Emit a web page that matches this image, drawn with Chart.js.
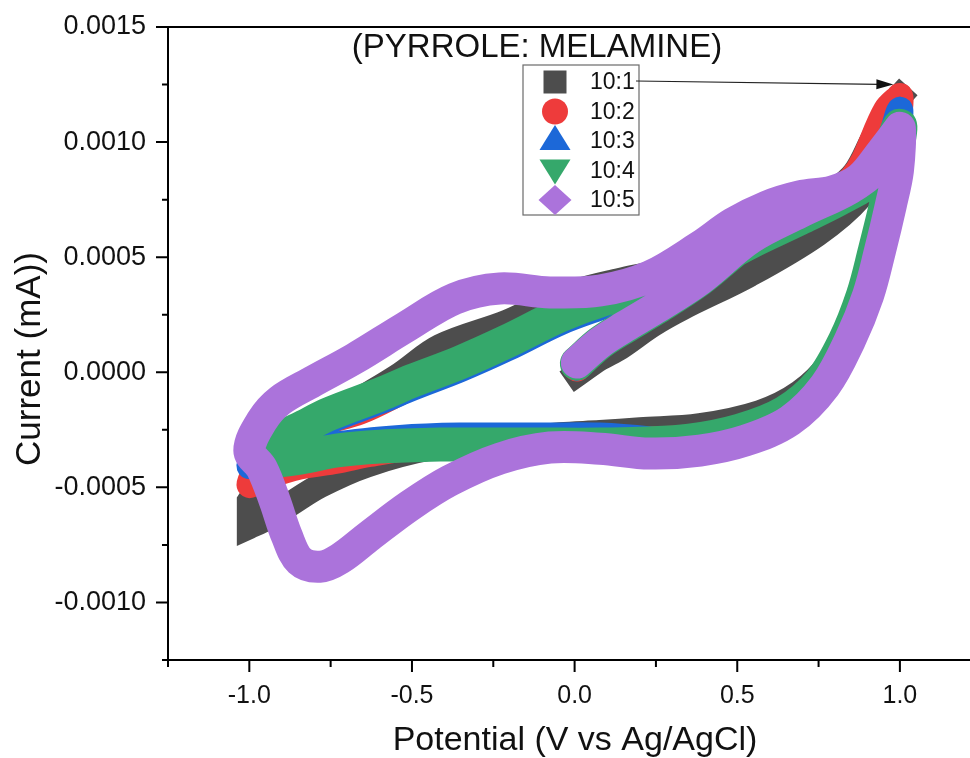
<!DOCTYPE html>
<html>
<head>
<meta charset="utf-8">
<script src="https://cdn.jsdelivr.net/npm/chart.js@4.4.1/dist/chart.umd.min.js"></script>
<style>
  html, body { margin: 0; padding: 0; background: #fff; }
  #cv { display: block; }
</style>
</head>
<body>
<canvas id="cv" width="970" height="758"></canvas>
<script>
// Cyclic voltammograms, potential (V) vs current, pyrrole:melamine ratios

const ratios = ["10:1", "10:2", "10:3", "10:4", "10:5"];
const colors = ["#4d4d4d", "#ee3b3b", "#1c68d8", "#35a86b", "#ab73db"];
const markers = ["square", "circle", "triangle", "triangleDown", "diamond"];
const bandWidths = [25, 26, 26, 34, 32];

const xTicks = [-1.0, -0.5, 0.0, 0.5, 1.0];
const xMinorTicks = [-1.25, -0.75, -0.25, 0.25, 0.75];
const yTicks = [0.0015, 0.0010, 0.0005, 0.0, -0.0005, -0.0010];
const yMinorTicks = [0.00125, 0.00075, 0.00025, -0.00025, -0.00075, -0.00125];

// [potential, current]; a repeated point marks a sharp switching corner
const cv_10_1 = [
  [0.007, -0.00001], [0.078, 0.00006], [0.139, 0.000107], [0.240, 0.000207], [0.333, 0.000281],
  [0.539, 0.000425], [0.745, 0.000599], [0.877, 0.00076], [0.954, 0.000942], [1.0, 0.0012],
  [0.988, 0.001007], [0.954, 0.000747], [0.908, 0.000464], [0.852, 0.000225], [0.785, 0.000042],
  [0.692, -0.000088], [0.569, -0.000175], [0.385, -0.000232], [0.201, -0.00025], [0.078, -0.000262],
  [-0.045, -0.000271], [-0.230, -0.000297], [-0.436, -0.000327], [-0.639, -0.000403], [-0.783, -0.000493],
  [-0.891, -0.000588], [-0.961, -0.000645], [-1.0, -0.00067], [-1.0, -0.00067],
  [-1.0, -0.00056], [-1.0, -0.00056], [-0.937, -0.000427], [-0.845, -0.000297], [-0.691, -0.000145],
  [-0.537, -0.00001], [-0.414, 0.000112], [-0.208, 0.000218], [-0.092, 0.000295], [0.007, 0.000352],
  [0.139, 0.000399], [0.262, 0.000438], [0.385, 0.000494], [0.539, 0.000607], [0.692, 0.000703],
  [0.800, 0.00079], [0.862, 0.000868], [0.914, 0.001007], [0.960, 0.001138], [1.0, 0.0012]
];

const cv_10_2 = [
  [0.007, 0.000016], [0.078, 0.000142], [0.155, 0.000212], [0.247, 0.00029], [0.385, 0.000416],
  [0.539, 0.000594], [0.692, 0.000707], [0.846, 0.000812], [0.939, 0.000964], [1.0, 0.0012],
  [0.985, 0.000964], [0.960, 0.000725], [0.926, 0.000529], [0.889, 0.000333], [0.834, 0.000138],
  [0.757, -0.000045], [0.649, -0.000175], [0.508, -0.000253], [0.354, -0.000284], [0.201, -0.000293],
  [0.078, -0.000297], [-0.107, -0.000301], [-0.291, -0.00031], [-0.476, -0.000323], [-0.630, -0.000355],
  [-0.731, -0.000384], [-0.845, -0.00041], [-0.937, -0.000449], [-1.0, -0.000488],
  [-0.961, -0.000393], [-0.891, -0.000297], [-0.783, -0.000223], [-0.660, -0.000171], [-0.537, -0.000088],
  [-0.353, 0.000042], [-0.208, 0.000138], [-0.076, 0.000225], [0.078, 0.00032], [0.231, 0.00042],
  [0.385, 0.000515], [0.539, 0.000615], [0.692, 0.000718], [0.852, 0.000842], [0.957, 0.001138],
  [1.0, 0.0012]
];

const cv_10_3 = [
  [0.007, 0.00002], [0.078, 0.000115], [0.155, 0.000188], [0.247, 0.000266], [0.385, 0.000393],
  [0.539, 0.000565], [0.692, 0.000672], [0.846, 0.000772], [0.939, 0.000899], [1.0, 0.00114],
  [0.982, 0.00092], [0.957, 0.000725], [0.923, 0.000529], [0.886, 0.000333], [0.831, 0.000138],
  [0.754, -0.000045], [0.646, -0.000175], [0.508, -0.000262], [0.385, -0.000323], [0.231, -0.000292],
  [0.078, -0.000275], [-0.107, -0.000275], [-0.353, -0.000275], [-0.537, -0.000285], [-0.731, -0.000314],
  [-0.845, -0.000355], [-0.937, -0.00039], [-1.0, -0.000406],
  [-0.952, -0.000332], [-0.845, -0.000275], [-0.752, -0.00021], [-0.599, -0.000127], [-0.497, -0.000067],
  [-0.353, 0.000012], [-0.208, 0.000103], [-0.045, 0.000216], [0.078, 0.000281], [0.231, 0.000355],
  [0.385, 0.000442], [0.539, 0.000555], [0.692, 0.000655], [0.816, 0.000745], [0.923, 0.000868],
  [0.979, 0.001007], [1.0, 0.00114]
];

const cv_10_4 = [
  [0.007, 0.000038], [0.078, 0.000128], [0.155, 0.000198], [0.247, 0.000276], [0.385, 0.000404],
  [0.539, 0.000579], [0.692, 0.000689], [0.846, 0.00079], [0.939, 0.000893], [1.0, 0.00107],
  [0.979, 0.000877], [0.957, 0.000725], [0.923, 0.000529], [0.886, 0.000333], [0.831, 0.000138],
  [0.754, -0.000045], [0.646, -0.000175], [0.508, -0.000253], [0.354, -0.000297], [0.201, -0.00031],
  [0.078, -0.000314], [-0.107, -0.000314], [-0.291, -0.000314], [-0.414, -0.000314], [-0.599, -0.000323],
  [-0.731, -0.00034], [-0.845, -0.000371], [-0.937, -0.000384], [-0.983, -0.000362],
  [-0.952, -0.000319], [-0.845, -0.000245], [-0.752, -0.00018], [-0.599, -0.000097], [-0.497, -0.000036],
  [-0.353, 0.000042], [-0.208, 0.000134], [-0.045, 0.000247], [0.078, 0.000312], [0.231, 0.000369],
  [0.385, 0.000451], [0.539, 0.000565], [0.692, 0.000668], [0.816, 0.000755], [0.923, 0.000848],
  [0.979, 0.000964], [1.0, 0.00107]
];

const cv_10_5 = [
  [0.007, 0.000042], [0.078, 0.000129], [0.155, 0.000199], [0.247, 0.000277], [0.385, 0.000403],
  [0.539, 0.000581], [0.692, 0.000694], [0.846, 0.000799], [0.939, 0.000899], [0.985, 0.000986],
  [1.0, 0.00106],
  [0.994, 0.000877], [0.972, 0.000725], [0.939, 0.000529], [0.902, 0.000333], [0.846, 0.000138],
  [0.770, -0.000058], [0.662, -0.00021], [0.524, -0.000297], [0.385, -0.00034], [0.231, -0.000353],
  [0.078, -0.000332], [-0.076, -0.000327], [-0.230, -0.000375], [-0.384, -0.000471], [-0.507, -0.00058],
  [-0.630, -0.00071], [-0.722, -0.00081], [-0.783, -0.000845], [-0.845, -0.000819], [-0.885, -0.00071],
  [-0.922, -0.000558], [-0.961, -0.000419], [-1.0, -0.00034],
  [-0.961, -0.00021], [-0.906, -0.000123], [-0.805, -0.00004], [-0.676, 0.00006], [-0.522, 0.000194],
  [-0.368, 0.00032], [-0.230, 0.000364], [-0.076, 0.000347], [0.078, 0.000355], [0.231, 0.000416],
  [0.385, 0.000546], [0.487, 0.000647], [0.591, 0.00072], [0.692, 0.000764], [0.794, 0.000786],
  [0.877, 0.000842], [0.948, 0.000964], [1.0, 0.00106]
];

const series = [cv_10_1, cv_10_2, cv_10_3, cv_10_4, cv_10_5];

// arrow from the 10:1 legend entry to its anodic peak
const arrowTarget = [0.98, 0.00125];

const FONT = '"Liberation Sans", Arial, sans-serif';

function drawMarker(ctx, style, cx, cy) {
    ctx.beginPath();
    if (style === "square") {
        ctx.rect(cx - 11.5, cy - 11.5, 23, 23);
    } else if (style === "circle") {
        ctx.arc(cx, cy, 13, 0, Math.PI * 2);
    } else if (style === "triangle") {
        ctx.moveTo(cx, cy - 16);
        ctx.lineTo(cx + 15.5, cy + 9);
        ctx.lineTo(cx - 15.5, cy + 9);
    } else if (style === "triangleDown") {
        ctx.moveTo(cx - 15.5, cy - 11);
        ctx.lineTo(cx + 15.5, cy - 11);
        ctx.lineTo(cx, cy + 14);
    } else {
        ctx.moveTo(cx, cy - 15);
        ctx.lineTo(cx + 16.5, cy);
        ctx.lineTo(cx, cy + 15);
        ctx.lineTo(cx - 16.5, cy);
    }
    ctx.closePath();
    ctx.fill();
}

// frame, tick marks, titles, legend and arrow
const decor = {
    id: "decor",
    afterDraw(chart) {
        const { ctx, chartArea: a } = chart;
        const x = chart.scales.x, y = chart.scales.y;
        ctx.save();

        ctx.strokeStyle = "#000";
        ctx.lineWidth = 2;
        ctx.beginPath();
        ctx.moveTo(a.left, a.top);
        ctx.lineTo(a.right, a.top);
        ctx.moveTo(a.left, a.top - 1);
        ctx.lineTo(a.left, a.bottom + 1);
        ctx.moveTo(a.left, a.bottom);
        ctx.lineTo(a.right, a.bottom);

        yTicks.forEach(v => {
            const py = y.getPixelForValue(v);
            ctx.moveTo(a.left - 12, py);
            ctx.lineTo(a.left, py);
        });
        yMinorTicks.forEach(v => {
            const py = y.getPixelForValue(v);
            ctx.moveTo(a.left - 6, py);
            ctx.lineTo(a.left, py);
        });
        xTicks.forEach(v => {
            const px = x.getPixelForValue(v);
            ctx.moveTo(px, a.bottom);
            ctx.lineTo(px, a.bottom + 12);
        });
        xMinorTicks.forEach(v => {
            const px = x.getPixelForValue(v);
            ctx.moveTo(px, a.bottom);
            ctx.lineTo(px, a.bottom + 7);
        });
        ctx.stroke();

        ctx.fillStyle = "#111";
        ctx.textAlign = "center";
        ctx.textBaseline = "middle";
        ctx.font = "33px " + FONT;
        ctx.fillText("(PYRROLE: MELAMINE)", 537, 48);

        ctx.font = "34px " + FONT;
        ctx.fillText("Potential (V vs Ag/AgCl)", 575, 741);

        ctx.save();
        ctx.translate(30, 359);
        ctx.rotate(-Math.PI / 2);
        ctx.font = "35px " + FONT;
        ctx.fillText("Current (mA))", 0, 0);
        ctx.restore();

        // legend
        ctx.strokeStyle = "#6a6a6a";
        ctx.lineWidth = 1.2;
        ctx.strokeRect(523, 65, 116, 150);
        ctx.font = "23px " + FONT;
        ctx.textAlign = "left";
        ratios.forEach((label, i) => {
            const rowY = 82 + i * 29.5;
            ctx.fillStyle = colors[i];
            drawMarker(ctx, markers[i], 555, rowY);
            ctx.fillStyle = "#111";
            ctx.fillText(label, 590, rowY + 1);
        });

        // arrow
        const tx = x.getPixelForValue(arrowTarget[0]);
        const ty = y.getPixelForValue(arrowTarget[1]);
        const sx = 636, sy = 81;
        const ang = Math.atan2(ty - sy, tx - sx);
        ctx.strokeStyle = "#222";
        ctx.lineWidth = 1.2;
        ctx.beginPath();
        ctx.moveTo(sx, sy);
        ctx.lineTo(tx - 14 * Math.cos(ang), ty - 14 * Math.sin(ang));
        ctx.stroke();
        ctx.fillStyle = "#111";
        ctx.beginPath();
        ctx.moveTo(tx, ty);
        ctx.lineTo(tx - 17 * Math.cos(ang) + 5 * Math.sin(ang), ty - 17 * Math.sin(ang) - 5 * Math.cos(ang));
        ctx.lineTo(tx - 17 * Math.cos(ang) - 5 * Math.sin(ang), ty - 17 * Math.sin(ang) + 5 * Math.cos(ang));
        ctx.closePath();
        ctx.fill();

        ctx.restore();
    }
};

const datasets = series.map((pts, i) => ({
    label: ratios[i],
    data: pts.map(p => ({ x: p[0], y: p[1] })),
    borderColor: colors[i],
    backgroundColor: colors[i],
    borderWidth: bandWidths[i],
    borderCapStyle: i === 0 ? "square" : "round",
    borderJoinStyle: i === 0 ? "miter" : "round",
    pointRadius: 0,
    tension: 0.35,
    fill: false,
    order: series.length - i
}));

new Chart(document.getElementById("cv"), {
    type: "line",
    data: { datasets },
    options: {
        responsive: false,
        animation: false,
        devicePixelRatio: 1,
        layout: { padding: { top: 27, right: 0, left: 0, bottom: 0 } },
        plugins: {
            legend: { display: false },
            tooltip: { enabled: false }
        },
        scales: {
            x: {
                type: "linear",
                min: -1.25,
                max: 1.2155,
                grid: { display: false, drawTicks: false },
                border: { display: false },
                afterBuildTicks: s => { s.ticks = xTicks.map(v => ({ value: v })); },
                afterFit: s => { s.height = 98; s.paddingLeft = 0; s.paddingRight = 0; },
                ticks: {
                    autoSkip: false,
                    maxRotation: 0,
                    padding: 21,
                    color: "#111",
                    font: { family: FONT, size: 25 },
                    callback: v => Number(v).toFixed(1)
                }
            },
            y: {
                type: "linear",
                min: -0.00125,
                max: 0.0015,
                grid: { display: false, drawTicks: false },
                border: { display: false },
                afterBuildTicks: s => { s.ticks = yTicks.map(v => ({ value: v })); },
                afterFit: s => { s.width = 168; s.paddingTop = 0; s.paddingBottom = 0; },
                ticks: {
                    autoSkip: false,
                    padding: 22,
                    color: "#111",
                    font: { family: FONT, size: 27 },
                    callback: v => Number(v).toFixed(4)
                }
            }
        }
    },
    plugins: [decor]
});
</script>
</body>
</html>
